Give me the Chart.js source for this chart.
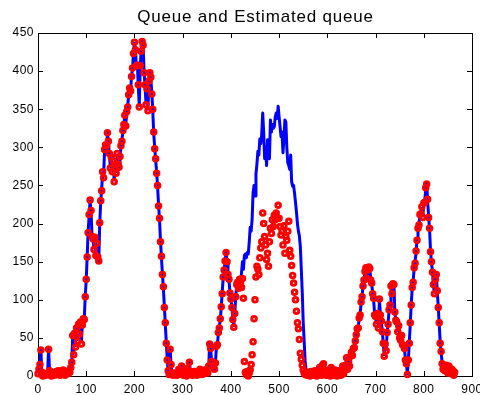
<!DOCTYPE html>
<html>
<head>
<meta charset="utf-8">
<script src="https://cdn.jsdelivr.net/npm/chart.js@4"></script>
<style>
  html, body { margin: 0; padding: 0; background: #fff; }
  canvas { display: block; }
</style>
</head>
<body>
<canvas id="chart" width="480" height="395"></canvas>
<script>
// Queue length per time slot, and the estimator's output, sampled every 2 slots.
const chartTitle = 'Queue and Estimated queue';
const sampleStep = 2;
const xTicks = [0, 100, 200, 300, 400, 500, 600, 700, 800, 900];
const yTicks = [0, 50, 100, 150, 200, 250, 300, 350, 400, 450];

const queue = [
  2, 8, 16, 35, 4, 1, 0, 3, 0, 2,
  5, 36, 6, 2, 0, 1, 3, 0, 2, 5,
  1, 6, 3, 0, 2, 4, 7, 2, 0, 3,
  5, 2, 6, 4, 10, 17, 54, 30, 55, 40,
  62, 48, 66, 58, 70, 45, 68, 74, 76, 105,
  126, 157, 190, 210, 230, 215, 185, 178, 168, 180,
  160, 172, 158, 150, 200, 228, 245, 266, 262, 295,
  305, 300, 318, 310, 290, 275, 285, 270, 280, 257,
  275, 268, 290, 280, 272, 290, 300, 310, 320, 332,
  340, 330, 345, 355, 367, 380, 372, 395, 402, 425,
  437, 430, 405, 410, 380, 355, 405, 428, 440, 432,
  400, 380, 358, 375, 350, 385, 400, 390, 372, 348,
  318, 300, 283, 268, 248, 225, 205, 178, 155, 135,
  115, 92, 68, 45, 22, 6, 3, 36, 14, 3,
  0, 2, 5, 1, 0, 3, 8, 2, 4, 14,
  3, 0, 6, 2, 1, 9, 4, 19, 5, 2,
  0, 4, 7, 1, 3, 0, 2, 5, 8, 3,
  1, 6, 2, 9, 4, 7, 3, 12, 43, 35,
  20, 12, 15, 8, 18, 38, 42, 55, 65, 74,
  90, 110, 128, 140, 150, 163, 148, 135, 126, 110,
  100, 92, 75, 66, 80, 105, 118, 125, 113, 128,
  125, 135, 150, 140, 158, 160, 155, 162, 160, 175,
  195, 190, 205, 240, 250, 236, 265, 278, 295, 290,
  311, 305, 318, 345, 320, 285, 300, 276, 310, 300,
  285, 336, 320, 330, 325, 327, 340, 345, 338, 354,
  340, 327, 314, 320, 293, 311, 336, 333, 300, 280,
  276, 271, 290, 255, 249, 250, 240, 228, 215, 200,
  190, 184, 170, 140, 110, 70, 45, 18, 8, 2,
  0, 3, 1, 5, 2, 0, 4, 8, 2, 1,
  6, 3, 10, 5, 2, 13, 17, 6, 3, 0,
  4, 9, 2, 1, 10, 5, 0, 3, 7, 2,
  1, 5, 8, 3, 0, 6, 12, 4, 9, 15,
  23, 10, 18, 14, 25, 30, 28, 35, 38, 45,
  55, 60, 64, 75, 82, 95, 105, 117, 128, 135,
  140, 130, 138, 144, 140, 128, 120, 110, 100, 82,
  76, 70, 80, 65, 100, 82, 70, 60, 42, 28,
  40, 35, 56, 70, 85, 95, 117, 110, 120, 122,
  82, 75, 70, 60, 65, 52, 45, 55, 40, 42,
  35, 22, 15, 3, 20, 45, 68, 95, 115, 125,
  140, 150, 162, 180, 192, 200, 210, 215, 220, 210,
  225, 230, 245, 253, 230, 210, 192, 165, 148, 138,
  118, 110, 125, 135, 110, 92, 68, 45, 30, 18,
  8, 12, 6, 15, 10, 5, 12, 8, 3, 10,
  6, 2, 4
];

const estimated = [
  3, 9, 15, 34, 5, 0, 1, 2, 1, 3,
  4, 35, 7, 1, 0, 2, 4, 1, 3, 6,
  2, 7, 4, 1, 3, 5, 8, 3, 1, 4,
  6, 3, 7, 5, 11, 18, 53, 28, 56, 38,
  63, 46, 68, 55, 71, 42, 67, 75, 74, 104,
  127, 156, 188, 212, 231, 217, 183, 180, 166, 182,
  158, 174, 156, 151, 201, 230, 243, 268, 260, 297,
  303, 302, 319, 308, 292, 273, 287, 268, 282, 255,
  277, 266, 292, 278, 274, 288, 302, 308, 322, 330,
  342, 328, 347, 353, 369, 378, 374, 393, 404, 423,
  438, 428, 407, 408, 382, 353, 407, 426, 439, 434,
  398, 382, 356, 377, 348, 387, 398, 392, 370, 350,
  320, 298, 285, 266, 250, 223, 207, 176, 157, 133,
  117, 90, 70, 43, 21, 7, 2, 35, 15, 4,
  1, 3, 4, 2, 1, 2, 9, 3, 5, 13,
  2, 1, 7, 3, 0, 10, 5, 18, 6, 3,
  1, 5, 6, 2, 4, 1, 3, 6, 9, 4,
  2, 7, 3, 8, 5, 8, 4, 13, 42, 36,
  19, 13, 14, 9, 17, 39, 41, 57, 63, 75,
  91, 108, 130, 139, 151, 162, 150, 133, 127, 109,
  101, 90, 74, 64, 82, 104, 120, 123, 115, 127,
  122, 116, 128, 102, 19, 5, 2, 6, 0, 4,
  8, 15, 28, 45, 75, 100, 130, 144, 140, 133,
  155, 168, 176, 214, 200, 183, 172, 153, 161, 144,
  176, 194, 187, 205, 196, 211, 205, 214, 207, 224,
  207, 196, 185, 190, 172, 197, 161, 183, 178, 190,
  203, 165, 157, 145, 132, 122, 110, 100, 85, 70,
  62, 48, 30, 22, 14, 8, 4, 2, 5, 1,
  1, 2, 0, 6, 3, 1, 5, 7, 3, 0,
  5, 4, 11, 6, 1, 14, 16, 7, 2, 1,
  5, 8, 3, 0, 11, 4, 1, 2, 8, 3,
  0, 6, 7, 4, 1, 5, 13, 3, 10, 14,
  24, 9, 19, 13, 26, 31, 27, 36, 37, 46,
  54, 62, 63, 76, 80, 97, 104, 118, 126, 137,
  142, 128, 139, 143, 141, 126, 122, 108, 102, 80,
  78, 68, 82, 63, 101, 80, 72, 58, 43, 26,
  42, 33, 57, 68, 87, 93, 118, 108, 121, 120,
  84, 73, 71, 58, 66, 50, 47, 53, 41, 40,
  36, 21, 16, 2, 21, 43, 70, 93, 116, 123,
  142, 148, 164, 178, 194, 198, 212, 213, 222, 208,
  227, 228, 247, 252, 232, 208, 194, 163, 150, 136,
  120, 108, 127, 133, 112, 90, 70, 43, 32, 16,
  9, 11, 7, 14, 11, 4, 13, 7, 4, 9,
  7, 1, 5
];

const toPoints = values => values.map((v, i) => ({ x: i * sampleStep, y: v }));
const FONT_FAMILY = "'Liberation Sans', Arial, Helvetica, sans-serif";

// Boxed axes with inward tick marks on all four sides, plus the title.
const axesBox = {
  id: 'axesBox',
  beforeDraw(chart) {
    chart.ctx.letterSpacing = '0.5px';
  },
  beforeDatasetsDraw(chart) {
    const { ctx, chartArea: a, scales: { x, y } } = chart;
    ctx.save();
    ctx.strokeStyle = '#000';
    ctx.lineWidth = 1;
    ctx.strokeRect(a.left + 0.5, a.top + 0.5, a.right - a.left, a.bottom - a.top);
    ctx.beginPath();
    x.ticks.forEach(t => {
      const px = Math.round(x.getPixelForValue(t.value)) + 0.5;
      ctx.moveTo(px, a.bottom); ctx.lineTo(px, a.bottom - 5);
      ctx.moveTo(px, a.top); ctx.lineTo(px, a.top + 5);
    });
    y.ticks.forEach(t => {
      const py = Math.round(y.getPixelForValue(t.value)) + 0.5;
      ctx.moveTo(a.left, py); ctx.lineTo(a.left + 5, py);
      ctx.moveTo(a.right, py); ctx.lineTo(a.right - 5, py);
    });
    ctx.stroke();
    ctx.restore();
  },
  afterDraw(chart) {
    const { ctx, chartArea: a } = chart;
    ctx.save();
    ctx.letterSpacing = '0.8px';
    ctx.font = '17px ' + FONT_FAMILY;
    ctx.fillStyle = '#000';
    ctx.textAlign = 'center';
    ctx.textBaseline = 'alphabetic';
    ctx.fillText(chartTitle, (a.left + a.right) / 2 + 0.5, 21.5);
    ctx.restore();
  }
};

new Chart(document.getElementById('chart'), {
  type: 'scatter',
  data: {
    datasets: [
      {
        label: 'Estimated queue',
        data: toPoints(estimated),
        showLine: false,
        pointStyle: 'circle',
        pointRadius: 2.3,
        pointBorderWidth: 2.9,
        pointBorderColor: '#ff0000',
        pointBackgroundColor: 'rgba(0,0,0,0)',
        order: 0,
        clip: false
      },
      {
        label: 'Queue',
        data: toPoints(queue),
        showLine: true,
        borderColor: '#0000ff',
        borderWidth: 3,
        borderJoinStyle: 'round',
        pointRadius: 0,
        tension: 0,
        order: 1,
        clip: false
      }
    ]
  },
  options: {
    responsive: false,
    animation: false,
    events: [],
    layout: { padding: { top: 33, right: 8, bottom: 0, left: 0 } },
    plugins: {
      legend: { display: false },
      tooltip: { enabled: false },
      title: { display: false }
    },
    scales: {
      x: {
        type: 'linear',
        min: xTicks[0],
        max: xTicks[xTicks.length - 1],
        grid: { display: false, drawTicks: false },
        border: { display: false },
        ticks: { color: '#000', font: { family: FONT_FAMILY, size: 12 }, padding: 6, maxRotation: 0 },
        afterBuildTicks: s => { s.ticks = xTicks.map(v => ({ value: v })); },
        afterFit: s => { s.height = 19; s.paddingLeft = 0; s.paddingRight = 0; }
      },
      y: {
        type: 'linear',
        min: yTicks[0],
        max: yTicks[yTicks.length - 1],
        grid: { display: false, drawTicks: false },
        border: { display: false },
        ticks: { color: '#000', font: { family: FONT_FAMILY, size: 12 }, padding: 4 },
        afterBuildTicks: s => { s.ticks = yTicks.map(v => ({ value: v })); },
        afterFit: s => { s.width = 38; s.paddingTop = 0; s.paddingBottom = 0; }
      }
    }
  },
  plugins: [axesBox]
});
</script>
</body>
</html>
